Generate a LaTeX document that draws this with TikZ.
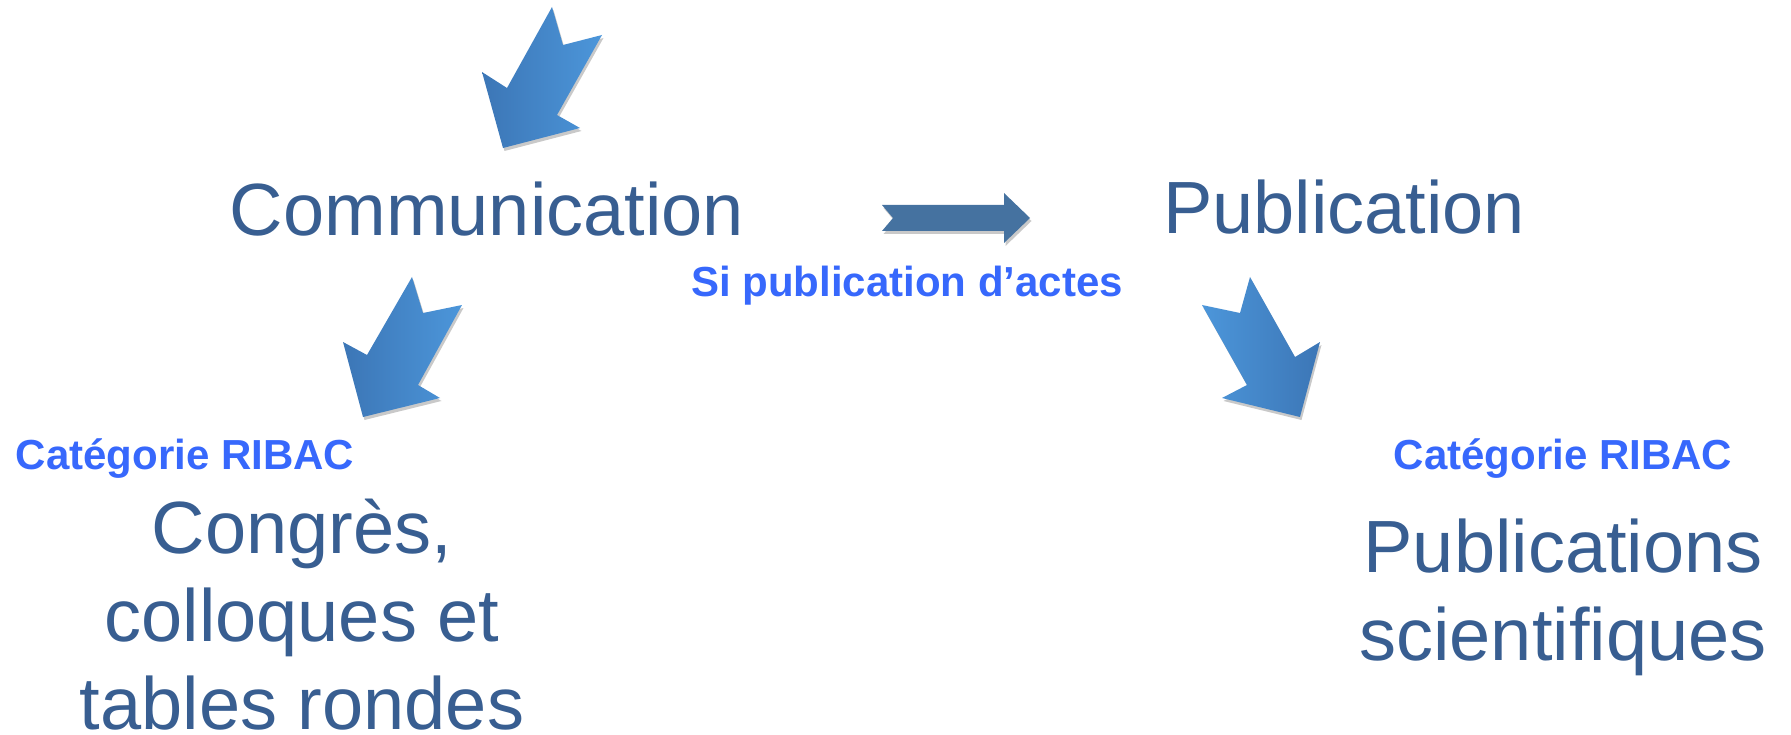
\documentclass[tikz,border=0pt]{standalone}
\usepackage{fontspec}
\setmainfont{Liberation Sans}
\usetikzlibrary{shadows}
\definecolor{titreblue}{RGB}{56,94,145}
\definecolor{ribacblue}{RGB}{55,104,252}
\definecolor{flechedark}{RGB}{60,118,182}
\definecolor{flechelight}{RGB}{76,150,218}
\definecolor{flechehoriz}{RGB}{69,114,160}
\tikzset{
  bigtext/.style={text=titreblue, font=\fontsize{74}{88}\selectfont, inner sep=0pt, anchor=base},
  ribac/.style={text=ribacblue, font=\bfseries\fontsize{42}{50}\selectfont, inner sep=0pt, anchor=base},
  flecheshadow/.style={drop shadow={shadow xshift=1.5pt, shadow yshift=-3pt, opacity=.3, fill=black!70}}
}
\begin{document}
\begin{tikzpicture}[x=1pt,y=-1pt]
    \useasboundingbox (0,0) rectangle (1791,735);
      % arrows
      \shade[flecheshadow, left color=flechedark, right color=flechelight]
        (552,7) -- (563,45) -- (602,35) -- (557,115) -- (580,128) -- (503,148) -- (482,72) -- (507,88) -- cycle;
      \shade[flecheshadow, left color=flechedark, right color=flechelight]
        (412,277) -- (423,313) -- (462,305) -- (418,385) -- (440,398) -- (363,417) -- (343,342) -- (367,355) -- cycle;
      \shade[flecheshadow, left color=flechelight, right color=flechedark]
        (1250,277) -- (1240,313) -- (1202,305) -- (1247,385) -- (1222,398) -- (1300,417) -- (1320,342) -- (1295,357) -- cycle;
      \fill[flecheshadow, flechehoriz]
        (882,205) -- (1004,205) -- (1004,193) -- (1030,218) -- (1004,243) -- (1004,231) -- (882,231) -- (893,218) -- cycle;
      % texts
      \node[bigtext] (comm) at (487,236) {Communication};
      \node[bigtext] (publi) at (1344,234) {Publication};
      \node[ribac] (actes) at (907,297) {Si publication d’actes};
      \node[ribac] (ribacg) at (185,469) {Catégorie RIBAC};
      \node[ribac] (ribacd) at (1563,469) {Catégorie RIBAC};
      \node[bigtext, align=center] (congres) at (302,729) {Congrès,\\colloques et\\tables rondes};
      \node[bigtext, align=center] (pubsci) at (1563,660) {Publications\\scientifiques};
    \end{tikzpicture}
\end{document}
